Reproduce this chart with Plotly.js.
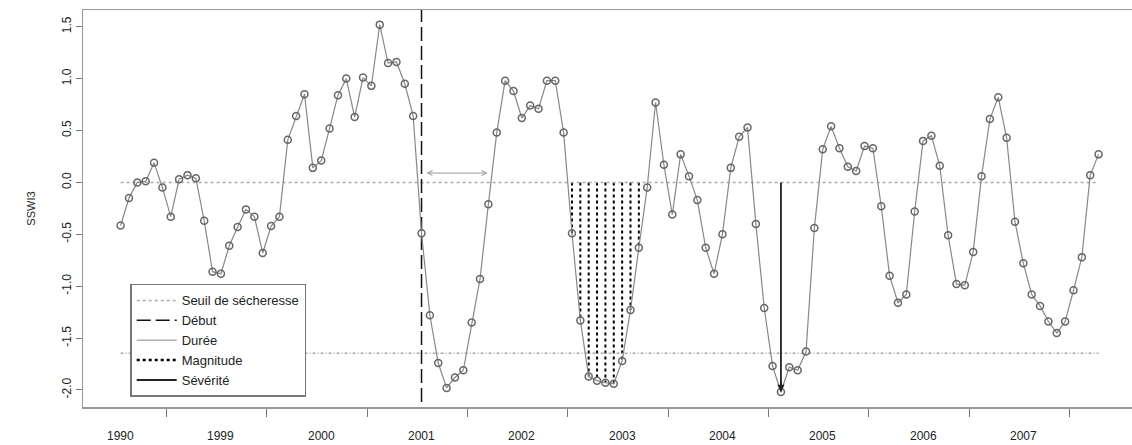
<!DOCTYPE html>
<html><head><meta charset="utf-8">
<script src="https://cdn.plot.ly/plotly-3.0.1.min.js"></script>
<style>body{margin:0;background:#fff}#c{width:1132px;height:445px}</style>
</head><body><div id="c"></div>
<script>
const sswi3 = [-0.415,-0.15,0.0,0.01,0.19,-0.05,-0.33,0.03,0.07,0.04,-0.37,-0.86,-0.88,-0.61,-0.43,-0.26,-0.33,-0.68,-0.42,-0.33,
0.41,0.64,0.85,0.14,0.21,0.52,0.84,1.0,0.63,1.01,0.93,1.52,1.15,1.16,0.95,0.64,-0.49,-1.28,-1.74,-1.98,
-1.88,-1.81,-1.35,-0.93,-0.21,0.48,0.98,0.88,0.62,0.74,0.71,0.98,0.98,0.48,-0.49,-1.33,-1.87,-1.91,-1.93,-1.94,
-1.72,-1.23,-0.63,-0.05,0.77,0.17,-0.31,0.27,0.06,-0.17,-0.63,-0.88,-0.50,0.14,0.44,0.53,-0.40,-1.21,-1.77,-2.02,
-1.78,-1.81,-1.63,-0.44,0.32,0.54,0.33,0.15,0.11,0.35,0.33,-0.23,-0.90,-1.16,-1.08,-0.28,0.40,0.45,0.16,-0.51,
-0.98,-0.99,-0.67,0.06,0.61,0.82,0.43,-0.38,-0.78,-1.08,-1.19,-1.34,-1.45,-1.34,-1.04,-0.72,0.07,0.27];
const months = sswi3.map((v,i)=>i+1);
const yearLabels = ['1990','1999','2000','2001','2002','2003','2004','2005','2006','2007'];
const yearLabelPos = [1,13,25,37,49,61,73,85,97,109];
const yearTicks = [6.5,18.5,30.5,42.5,54.5,66.5,78.5,90.5,102.5,114.5];
const seuil = 0, seuilBas = -1.645;
const debut = 37, dureeStart = 37.4, dureeEnd = 44.9;
const magStart = 55, magEnd = 63;
const severiteIdx = 80;

const traces = [];
// magnitude dotted columns
const mx=[], my=[];
for (let i=magStart;i<=magEnd;i++){ mx.push(i,i,null); my.push(seuil, sswi3[i-1], null); }
traces.push({x:mx,y:my,mode:'lines',line:{color:'#000',width:2,dash:'dot'},showlegend:false,hoverinfo:'skip'});
const first=months[0], last=months[months.length-1];
traces.push({x:[first,last],y:[seuil,seuil],mode:'lines',line:{color:'#aaa',width:1.5,dash:'dot'},name:'Seuil de sécheresse'});
traces.push({x:[first,last],y:[seuilBas,seuilBas],mode:'lines',line:{color:'#aaa',width:1.5,dash:'3px,2px,1px,2px'},showlegend:false});
traces.push({x:[debut,debut],y:[-2.3,1.8],mode:'lines',line:{color:'#111',width:1.5,dash:'14px,5px'},name:'Début'});
traces.push({x:[null],y:[null],mode:'lines',line:{color:'#888',width:1},name:'Durée'});
traces.push({x:[null],y:[null],mode:'lines',line:{color:'#000',width:2.5,dash:'dot'},name:'Magnitude'});
traces.push({x:[severiteIdx,severiteIdx],y:[seuil,sswi3[severiteIdx-1]],mode:'lines',line:{color:'#222',width:1.8},name:'Sévérité'});
traces.push({x:months,y:sswi3,mode:'lines+markers',line:{color:'#888',width:1.2},
  marker:{symbol:'circle-open',size:7,color:'#666',line:{width:1.5,color:'#666'}},showlegend:false});

const ann = yearLabels.map((t,i)=>({x:yearLabelPos[i],y:-0.05,xref:'x',yref:'paper',yanchor:'top',text:t,showarrow:false,font:{family:'Arial',size:12,color:'#222'}}));
ann.push({x:dureeEnd,y:0.09,ax:dureeStart,ay:0.09,xref:'x',yref:'y',axref:'x',ayref:'y',text:'',showarrow:true,arrowhead:5,startarrowhead:5,arrowside:'end+start',arrowsize:1,arrowwidth:1,arrowcolor:'#999'});
ann.push({x:severiteIdx,y:sswi3[severiteIdx-1],ax:severiteIdx,ay:-1.9,xref:'x',yref:'y',axref:'x',ayref:'y',text:'',showarrow:true,arrowhead:2,arrowsize:0.8,arrowwidth:1.8,arrowcolor:'#222'});

Plotly.newPlot('c',traces,{
  width:1132,height:445,margin:{l:83,r:0,t:10,b:38},paper_bgcolor:'#fff',plot_bgcolor:'#fff',
  font:{family:'Arial',size:12,color:'#222'},
  xaxis:{range:[-3.5,122],showgrid:false,zeroline:false,showline:true,mirror:true,linecolor:'#999',linewidth:1.5,
    tickvals:yearTicks,ticktext:yearTicks.map(()=>''),ticks:'outside',ticklen:8,tickcolor:'#777'},
  yaxis:{range:[-2.164,1.661],showgrid:false,zeroline:false,showline:true,mirror:true,linecolor:'#999',linewidth:1.5,
    tickvals:[-2,-1.5,-1,-0.5,0,0.5,1,1.5],ticktext:['-2.0','-1.5','-1.0','-0.5','0.0','0.5','1.0','1.5'],
    ticks:'outside',ticklen:6,tickcolor:'#777',tickangle:-90,tickfont:{size:12},
    title:{text:'SSWI3',font:{size:11},standoff:22}},
  legend:{x:0.045,y:0.31,xanchor:'left',yanchor:'top',bordercolor:'#777',borderwidth:1.5,bgcolor:'#fff',
    font:{size:13,family:'Arial'},tracegroupgap:0,itemwidth:40},
  annotations:ann,showlegend:true
},{staticPlot:true});
</script></body></html>
